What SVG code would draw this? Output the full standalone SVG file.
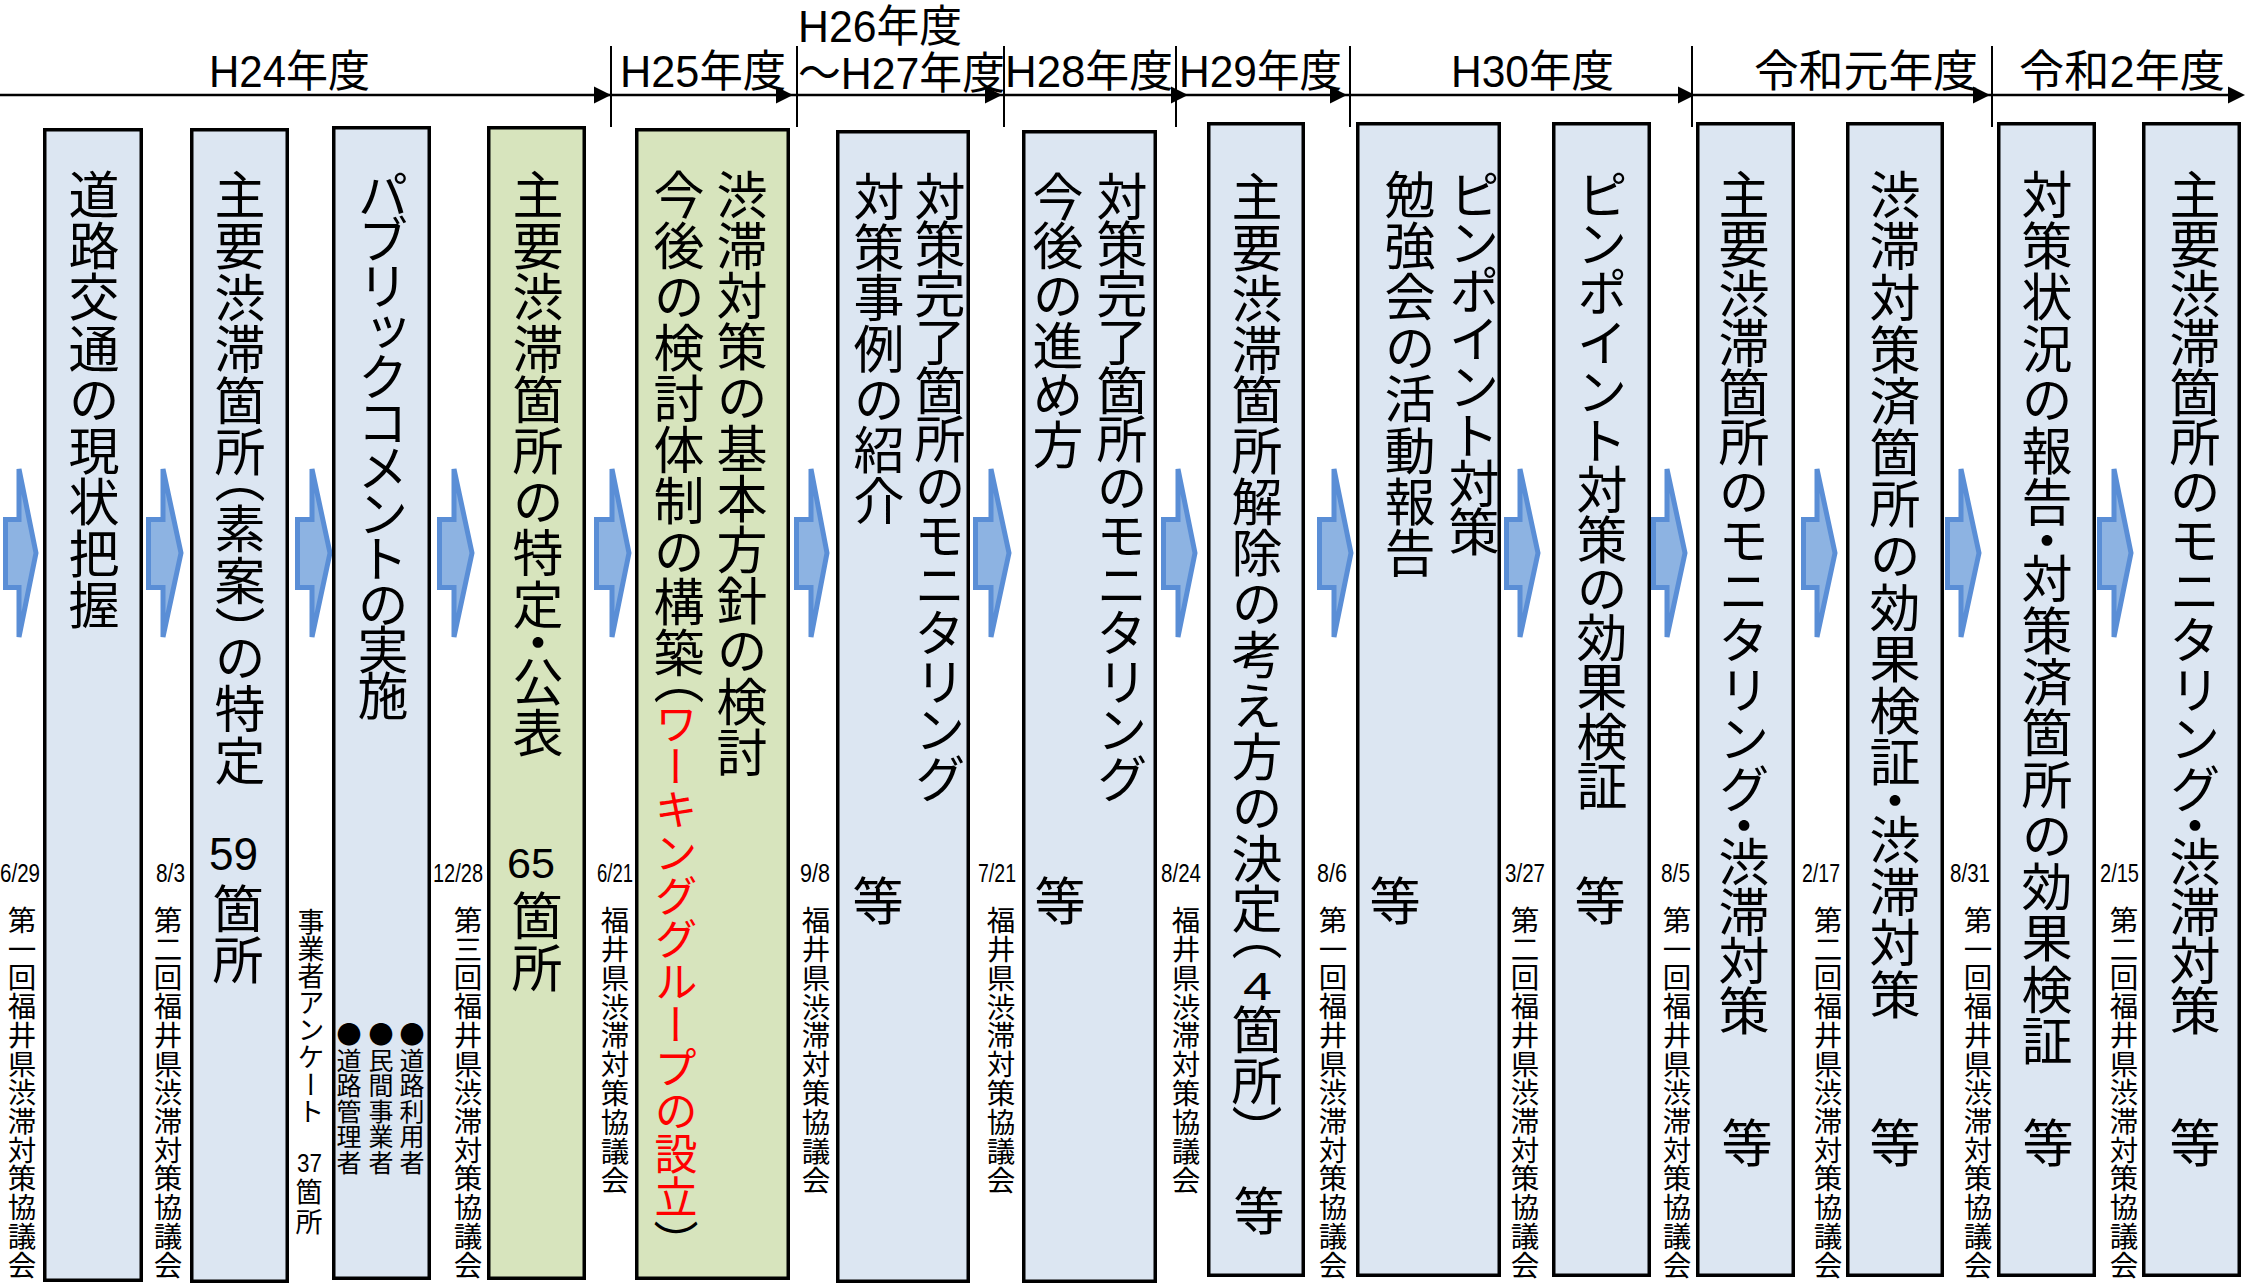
<svg xmlns="http://www.w3.org/2000/svg" width="2246" height="1287" viewBox="0 0 2246 1287">
<style>
.box{fill:#DCE6F2;stroke:#000;stroke-width:3.5}
.grn{fill:#D7E4BD;stroke:#000;stroke-width:3.5}
.arw{fill:#8DB3E2;stroke:#5A8ED6;stroke-width:5;stroke-linejoin:miter}
.v{font-family:"Noto Sans CJK JP",sans-serif;writing-mode:vertical-rl;font-feature-settings:"vhal" 1;fill:#000}
.m{font-size:51px}
.s{font-size:28.5px}
.hd{font-family:"Liberation Sans","Noto Sans CJK JP",sans-serif;font-size:44px;fill:#000}
.dt{font-family:"Liberation Sans",sans-serif;font-size:26px;fill:#000}
.num{font-family:"Liberation Sans",sans-serif;fill:#000}
.tl{stroke:#000;stroke-width:2.5;fill:none}
.dv{stroke:#000;stroke-width:2;fill:none}
.red{fill:#FF0000}
</style>
<defs>
<polygon id="ah" points="-17,-8.5 0,0 -17,8.5" fill="#000"/>
</defs>
<rect width="2246" height="1287" fill="#fff"/>

<g id="timeline">
<line class="tl" x1="0" y1="95" x2="2232" y2="95"/>
<use href="#ah" x="611" y="95"/>
<use href="#ah" x="793" y="95"/>
<use href="#ah" x="1002" y="95"/>
<use href="#ah" x="1188" y="95"/>
<use href="#ah" x="1347" y="95"/>
<use href="#ah" x="1695" y="95"/>
<use href="#ah" x="1990" y="95"/>
<use href="#ah" x="2245" y="95"/>
<line class="dv" x1="611" y1="46" x2="611" y2="127"/>
<line class="dv" x1="797" y1="46" x2="797" y2="127"/>
<line class="dv" x1="1004" y1="46" x2="1004" y2="127"/>
<line class="dv" x1="1176" y1="46" x2="1176" y2="127"/>
<line class="dv" x1="1350" y1="46" x2="1350" y2="127"/>
<line class="dv" x1="1692" y1="46" x2="1692" y2="127"/>
<line class="dv" x1="1992" y1="46" x2="1992" y2="127"/>
<text class="hd" x="209" y="87" textLength="161" lengthAdjust="spacingAndGlyphs">H24年度</text>
<text class="hd" x="620" y="87" textLength="166" lengthAdjust="spacingAndGlyphs">H25年度</text>
<text class="hd" x="798" y="42" font-size="42" textLength="164" lengthAdjust="spacingAndGlyphs">H26年度</text>
<text class="hd" x="798" y="89" font-size="42" textLength="207" lengthAdjust="spacingAndGlyphs">～H27年度</text>
<text class="hd" x="1005" y="87" textLength="168" lengthAdjust="spacingAndGlyphs">H28年度</text>
<text class="hd" x="1179" y="87" textLength="163" lengthAdjust="spacingAndGlyphs">H29年度</text>
<text class="hd" x="1451" y="87" textLength="163" lengthAdjust="spacingAndGlyphs">H30年度</text>
<text class="hd" x="1754" y="87" textLength="224" lengthAdjust="spacingAndGlyphs">令和元年度</text>
<text class="hd" x="2019" y="87" textLength="206" lengthAdjust="spacingAndGlyphs">令和2年度</text>
</g>

<g id="connectors">
<polygon class="arw" points="5.5,519.5 19,519.5 19,469 36,553 19,637 19,587.5 5.5,587.5"/>
<polygon class="arw" points="148.5,519.5 163,519.5 163,469 181,553 163,637 163,587.5 148.5,587.5"/>
<polygon class="arw" points="297.5,519.5 312,519.5 312,469 330,553 312,637 312,587.5 297.5,587.5"/>
<polygon class="arw" points="439.5,519.5 454,519.5 454,469 472,553 454,637 454,587.5 439.5,587.5"/>
<polygon class="arw" points="596.5,519.5 612,519.5 612,469 629,553 612,637 612,587.5 596.5,587.5"/>
<polygon class="arw" points="796.5,519.5 811,519.5 811,469 827,553 811,637 811,587.5 796.5,587.5"/>
<polygon class="arw" points="975.5,519.5 991,519.5 991,469 1009,553 991,637 991,587.5 975.5,587.5"/>
<polygon class="arw" points="1163.5,519.5 1178,519.5 1178,469 1195,553 1178,637 1178,587.5 1163.5,587.5"/>
<polygon class="arw" points="1319.5,519.5 1334,519.5 1334,469 1351,553 1334,637 1334,587.5 1319.5,587.5"/>
<polygon class="arw" points="1506.5,519.5 1520,519.5 1520,469 1538,553 1520,637 1520,587.5 1506.5,587.5"/>
<polygon class="arw" points="1653.5,519.5 1667,519.5 1667,469 1685,553 1667,637 1667,587.5 1653.5,587.5"/>
<polygon class="arw" points="1803.5,519.5 1817,519.5 1817,469 1835,553 1817,637 1817,587.5 1803.5,587.5"/>
<polygon class="arw" points="1947.5,519.5 1961,519.5 1961,469 1979,553 1961,637 1961,587.5 1947.5,587.5"/>
<polygon class="arw" points="2099.5,519.5 2114,519.5 2114,469 2131,553 2114,637 2114,587.5 2099.5,587.5"/>
</g>

<g id="n1">
<rect class="box" x="44.75" y="129.75" width="96.5" height="1150.5"/>
<text class="v m" x="94" y="169" textLength="461">道路交通の現状把握</text>
<text class="dt" x="0" y="882" textLength="40" lengthAdjust="spacingAndGlyphs">6/29</text>
<text class="v s" x="22" y="906" textLength="373">第一回福井県渋滞対策協議会</text>
</g>

<g id="n2">
<rect class="box" x="191.75" y="129.75" width="95.5" height="1151.5"/>
<text class="v m" x="240" y="169" textLength="617">主要渋滞箇所（素案）の特定</text>
<text class="num" x="209" y="870" font-size="46" textLength="49" lengthAdjust="spacingAndGlyphs">59</text>
<text class="v m" x="238" y="883" textLength="102">箇所</text>
<text class="dt" x="156" y="882" textLength="29" lengthAdjust="spacingAndGlyphs">8/3</text>
<text class="v s" x="168" y="906" textLength="373">第二回福井県渋滞対策協議会</text>
</g>

<g id="n3">
<rect class="box" x="333.75" y="127.75" width="95.5" height="1150.5"/>
<text class="v m" x="383" y="169" textLength="552">パブリックコメントの実施</text>
<text class="v" x="412" y="1022" font-size="25" textLength="153">●道路利用者</text>
<text class="v" x="381" y="1022" font-size="25" textLength="153">●民間事業者</text>
<text class="v" x="349" y="1022" font-size="25" textLength="153">●道路管理者</text>
<text class="v" x="311" y="908" font-size="27" textLength="217">事業者アンケート</text>
<text class="num" x="297" y="1172" font-size="26" textLength="25" lengthAdjust="spacingAndGlyphs">37</text>
<text class="v" x="309" y="1178" font-size="27" textLength="57">箇所</text>
</g>

<g id="n4">
<rect class="grn" x="488.75" y="127.75" width="95.5" height="1150.5"/>
<text class="v m" x="538" y="169" textLength="589">主要渋滞箇所の特定・公表</text>
<text class="num" x="507" y="878" font-size="43" textLength="48" lengthAdjust="spacingAndGlyphs">65</text>
<text class="v m" x="537" y="890" textLength="103">箇所</text>
<text class="dt" x="433" y="882" textLength="50" lengthAdjust="spacingAndGlyphs">12/28</text>
<text class="v s" x="468" y="906" textLength="373">第三回福井県渋滞対策協議会</text>
</g>

<g id="n5">
<rect class="grn" x="636.75" y="129.75" width="151.5" height="1148.5"/>
<text class="v m" x="742" y="169" textLength="609">渋滞対策の基本方針の検討</text>
<text class="v m" x="679" y="169" textLength="535">今後の検討体制の構築（</text>
<text class="v red" x="676" y="702" font-size="43" textLength="516">ワーキンググループの設立</text>
<text class="v" x="676" y="1220" font-size="45">）</text>
<text class="dt" x="597" y="882" textLength="36" lengthAdjust="spacingAndGlyphs">6/21</text>
<text class="v s" x="615" y="906" textLength="288">福井県渋滞対策協議会</text>
</g>

<g id="n6">
<rect class="box" x="837.75" y="131.75" width="130.5" height="1149.5"/>
<text class="v m" x="940" y="171" textLength="633">対策完了箇所のモニタリング</text>
<text class="v m" x="879" y="171" textLength="355">対策事例の紹介</text>
<text class="v m" x="878" y="875">等</text>
<text class="dt" x="800" y="882" textLength="30" lengthAdjust="spacingAndGlyphs">9/8</text>
<text class="v s" x="816" y="906" textLength="288">福井県渋滞対策協議会</text>
</g>

<g id="n7">
<rect class="box" x="1023.75" y="131.75" width="131.5" height="1149.5"/>
<text class="v m" x="1122" y="171" textLength="633">対策完了箇所のモニタリング</text>
<text class="v m" x="1058" y="171" textLength="299">今後の進め方</text>
<text class="v m" x="1060" y="875">等</text>
<text class="dt" x="978" y="882" textLength="38" lengthAdjust="spacingAndGlyphs">7/21</text>
<text class="v s" x="1001" y="906" textLength="288">福井県渋滞対策協議会</text>
</g>

<g id="n8">
<rect class="box" x="1208.75" y="123.75" width="94.5" height="1151.5"/>
<text class="v m" x="1257" y="171" textLength="789">主要渋滞箇所解除の考え方の決定（</text>
<text class="num" x="1243" y="1000" font-size="38" textLength="29" lengthAdjust="spacingAndGlyphs">4</text>
<text class="v m" x="1257" y="1004" textLength="127">箇所）</text>
<text class="v m" x="1259" y="1185">等</text>
<text class="dt" x="1161" y="882" textLength="40" lengthAdjust="spacingAndGlyphs">8/24</text>
<text class="v s" x="1186" y="906" textLength="288">福井県渋滞対策協議会</text>
</g>

<g id="n9">
<rect class="box" x="1357.75" y="123.75" width="141.5" height="1151.5"/>
<text class="v m" x="1474" y="169" textLength="388">ピンポイント対策</text>
<text class="v m" x="1410" y="169" textLength="409">勉強会の活動報告</text>
<text class="v m" x="1395" y="875">等</text>
<text class="dt" x="1317" y="882" textLength="30" lengthAdjust="spacingAndGlyphs">8/6</text>
<text class="v s" x="1333" y="906" textLength="373">第一回福井県渋滞対策協議会</text>
</g>

<g id="n10">
<rect class="box" x="1553.75" y="123.75" width="95.5" height="1151.5"/>
<text class="v m" x="1602" y="169" textLength="642">ピンポイント対策の効果検証</text>
<text class="v m" x="1600" y="875">等</text>
<text class="dt" x="1505" y="882" textLength="40" lengthAdjust="spacingAndGlyphs">3/27</text>
<text class="v s" x="1525" y="906" textLength="373">第二回福井県渋滞対策協議会</text>
</g>

<g id="n11">
<rect class="box" x="1697.75" y="123.75" width="95.5" height="1151.5"/>
<text class="v m" x="1744" y="169" textLength="867">主要渋滞箇所のモニタリング・渋滞対策</text>
<text class="v m" x="1747" y="1117">等</text>
<text class="dt" x="1661" y="882" textLength="29" lengthAdjust="spacingAndGlyphs">8/5</text>
<text class="v s" x="1677" y="906" textLength="373">第一回福井県渋滞対策協議会</text>
</g>

<g id="n12">
<rect class="box" x="1847.75" y="123.75" width="94.5" height="1151.5"/>
<text class="v m" x="1895" y="169" textLength="851">渋滞対策済箇所の効果検証・渋滞対策</text>
<text class="v m" x="1895" y="1117">等</text>
<text class="dt" x="1802" y="882" textLength="38" lengthAdjust="spacingAndGlyphs">2/17</text>
<text class="v s" x="1828" y="906" textLength="373">第二回福井県渋滞対策協議会</text>
</g>

<g id="n13">
<rect class="box" x="1998.75" y="123.75" width="95.5" height="1151.5"/>
<text class="v m" x="2047" y="169" textLength="897">対策状況の報告・対策済箇所の効果検証</text>
<text class="v m" x="2048" y="1117">等</text>
<text class="dt" x="1950" y="882" textLength="40" lengthAdjust="spacingAndGlyphs">8/31</text>
<text class="v s" x="1978" y="906" textLength="373">第一回福井県渋滞対策協議会</text>
</g>

<g id="n14">
<rect class="box" x="2143.75" y="123.75" width="95.5" height="1151.5"/>
<text class="v m" x="2195" y="169" textLength="867">主要渋滞箇所のモニタリング・渋滞対策</text>
<text class="v m" x="2195" y="1117">等</text>
<text class="dt" x="2100" y="882" textLength="39" lengthAdjust="spacingAndGlyphs">2/15</text>
<text class="v s" x="2124" y="906" textLength="373">第二回福井県渋滞対策協議会</text>
</g>
</svg>
